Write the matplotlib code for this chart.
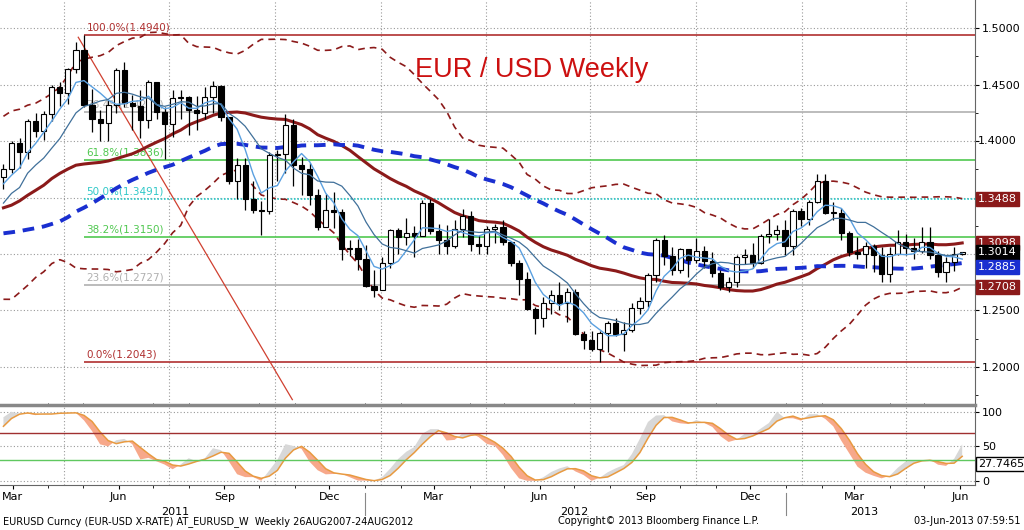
import numpy as np
import pandas as pd
import matplotlib
matplotlib.use("Agg")
import matplotlib.pyplot as plt
import matplotlib.dates as mdates

# ---- data (weekly, EURUSD) ----
pre_close = [1.363,1.362,1.377,1.352,1.339,1.350,1.345,1.350,1.338,1.329,1.275,1.236,1.257,1.226,
             1.197,1.211,1.238,1.237,1.256,1.263,1.294,1.291,1.304,1.328,1.276,1.270,1.276,1.289,
             1.271,1.305,1.349,1.379,1.400,1.397,1.396,1.395,1.403,1.368,1.366,1.324,1.341,1.324,
             1.320,1.312,1.338,1.291,1.337,1.362,1.360,1.358,1.350,1.368]
close = [1.375,1.398,1.390,1.418,1.409,1.424,1.448,1.443,1.464,1.481,1.432,1.420,1.416,1.432,1.463,
         1.434,1.431,1.419,1.452,1.426,1.415,1.438,1.439,1.428,1.425,1.439,1.449,1.421,1.365,1.379,
         1.349,1.339,1.338,1.388,1.389,1.414,1.379,1.375,1.352,1.324,1.339,1.337,1.304,1.305,1.296,
         1.272,1.268,1.292,1.321,1.315,1.319,1.316,1.345,1.320,1.312,1.307,1.322,1.334,1.309,1.307,
         1.322,1.324,1.311,1.292,1.278,1.251,1.243,1.257,1.264,1.257,1.266,1.229,1.224,1.216,1.230,
         1.239,1.229,1.233,1.252,1.258,1.281,1.312,1.298,1.286,1.304,1.295,1.303,1.294,1.283,1.271,
         1.275,1.297,1.299,1.292,1.316,1.318,1.321,1.307,1.338,1.331,1.346,1.365,1.336,1.336,1.319,
         1.302,1.300,1.307,1.299,1.282,1.300,1.311,1.305,1.303,1.311,1.299,1.284,1.293,1.300,1.3014]
high = [1.380,1.400,1.403,1.420,1.425,1.427,1.450,1.452,1.465,1.488,1.494,1.446,1.428,1.436,1.465,
        1.470,1.441,1.445,1.454,1.450,1.430,1.445,1.445,1.440,1.440,1.448,1.453,1.450,1.421,1.385,
        1.385,1.365,1.347,1.390,1.392,1.424,1.420,1.386,1.381,1.358,1.353,1.355,1.340,1.312,1.313,
        1.308,1.286,1.297,1.322,1.323,1.332,1.325,1.348,1.349,1.327,1.326,1.330,1.340,1.338,1.317,
        1.325,1.327,1.330,1.307,1.295,1.284,1.253,1.262,1.268,1.275,1.270,1.269,1.232,1.232,1.232,
        1.241,1.243,1.240,1.257,1.262,1.283,1.314,1.317,1.306,1.305,1.301,1.314,1.307,1.302,1.286,
        1.280,1.299,1.304,1.310,1.318,1.331,1.326,1.330,1.340,1.341,1.348,1.371,1.371,1.346,1.341,
        1.320,1.315,1.311,1.309,1.306,1.306,1.321,1.318,1.314,1.324,1.324,1.303,1.297,1.306,1.302]
low = [1.358,1.372,1.376,1.384,1.404,1.401,1.418,1.431,1.433,1.460,1.430,1.408,1.400,1.400,1.425,
       1.430,1.410,1.403,1.412,1.420,1.384,1.404,1.420,1.405,1.410,1.420,1.425,1.418,1.362,1.349,
       1.339,1.336,1.317,1.335,1.365,1.372,1.360,1.352,1.343,1.321,1.328,1.323,1.295,1.298,1.286,
       1.271,1.262,1.270,1.288,1.300,1.308,1.297,1.316,1.318,1.300,1.300,1.305,1.315,1.303,1.300,
       1.300,1.310,1.308,1.289,1.264,1.250,1.229,1.235,1.247,1.250,1.240,1.228,1.216,1.214,1.204,
       1.213,1.227,1.214,1.231,1.247,1.253,1.275,1.290,1.281,1.283,1.280,1.292,1.288,1.280,1.268,
       1.266,1.271,1.291,1.288,1.291,1.310,1.312,1.299,1.299,1.325,1.326,1.345,1.335,1.330,1.312,
       1.298,1.296,1.288,1.284,1.275,1.275,1.299,1.299,1.296,1.301,1.296,1.280,1.275,1.285,1.299]
first_open = 1.368
start_date = "2011-02-21"

fib_pct = ["100.0%", "76.4%", "61.8%", "50.0%", "38.2%", "23.6%", "0.0%"]
fib_val = [1.4940, 1.4256, 1.3836, 1.3491, 1.3150, 1.2727, 1.2043]
fib_col = ["#b03030", "#b0b0b0", "#50c850", "#30c8c8", "#50c850", "#b0b0b0", "#b03030"]

trend_dates = ["2011-04-27", "2011-10-30"]
trend_vals = [1.492, 1.171]

last_labels = [("1.3488", "#8b1a1a", "white"), ("1.3098", "#8b1a1a", "white"),
               ("1.3014", "black", "white"), ("1.2885", "#1a2fd0", "white"),
               ("1.2708", "#8b1a1a", "white")]
last_label_vals = [1.3488, 1.3098, 1.3014, 1.2885, 1.2708]
stoch_label = "27.7465"
yticks = [1.20, 1.25, 1.45, 1.50]   # 1.30, 1.35, 1.40 labels are hidden behind value boxes / lines

# ---- derived ----
n = len(close)
dates = pd.date_range(start_date, periods=n, freq="W-MON")
opens = [first_open] + close[:-1]
allc = pd.Series(pre_close + close)
def tail(s): return s.iloc[-n:].values
ma5 = tail(allc.rolling(5).mean())
ma10 = tail(allc.rolling(10).mean())
ma30 = tail(allc.rolling(30).mean())
ma50 = tail(allc.rolling(50).mean())
sd30 = tail(allc.rolling(30).std(ddof=0))
ub, lb = ma30 + 2 * sd30, ma30 - 2 * sd30
hh, ll = allc.rolling(14).max(), allc.rolling(14).min()
rawk = (allc - ll) / (hh - ll) * 100
k = rawk.rolling(3).mean()
d = k.rolling(3).mean()
k, d = tail(k), tail(d)

# ---- figure ----
fig = plt.figure(figsize=(10.24, 5.30), dpi=100)
ax = fig.add_axes([0.0, 0.2396, 0.952, 0.7604])
ax2 = fig.add_axes([0.0, 0.085, 0.952, 0.151], sharex=ax)
x = mdates.date2num(dates)
xl = (mdates.datestr2num("2011-02-18"), mdates.datestr2num("2013-06-14"))

# grid
qdates = pd.date_range("2011-03-15", "2013-06-15", freq="3MS") + pd.Timedelta(days=14)
for a in (ax, ax2):
    for qd in qdates:
        a.axvline(mdates.date2num(qd), color="#999999", ls=(0, (1, 2)), lw=0.8, zorder=0)
for yv in np.arange(1.20, 1.501, 0.05):
    ax.axhline(yv, color="#999999", ls=(0, (1, 2)), lw=0.8, zorder=0)

# fib lines
fx0 = mdates.datestr2num("2011-05-02")
for p, v, c in zip(fib_pct, fib_val, fib_col):
    ls = (0, (1, 1)) if p == "50.0%" else "-"
    ax.hlines(v, fx0, xl[1], color=c, lw=1.2, ls=ls, zorder=1)
    ax.text(fx0 + 2, v + 0.002, f"{p}({v:.4f})", color=c, fontsize=7.5, va="bottom", zorder=2)

ax.plot(mdates.datestr2num(trend_dates), trend_vals, color="#d04030", lw=0.9, zorder=2)

# bands and MAs
ax.plot(x, ub, color="#8b1a1a", ls=(0, (4, 3)), lw=1.2, zorder=3)
ax.plot(x, lb, color="#8b1a1a", ls=(0, (4, 3)), lw=1.2, zorder=3)
ax.plot(x, ma30, color="#8b1a1a", lw=2.2, zorder=3)
ax.plot(x, ma50, color="#1a2fd0", ls=(0, (3, 2)), lw=2.8, zorder=3)
ax.plot(x, ma5, color="#5aa0e0", lw=1.0, zorder=5)
ax.plot(x, ma10, color="#40709a", lw=0.9, zorder=5)

# candles
w = 4.5
for xi, o, c, h, l in zip(x, opens, close, high, low):
    ax.vlines(xi, l, h, color="black", lw=0.9, zorder=4)
    fc = "white" if c >= o else "black"
    ax.bar(xi, max(abs(c - o), 0.0008), bottom=min(o, c), width=w, color=fc,
           edgecolor="black", lw=0.8, zorder=4)

ax.text(0.545, 0.826, "EUR / USD Weekly", transform=ax.transAxes, color="#cc1010",
        fontsize=19.5, ha="center", va="center", family="Liberation Sans")

ax.set_xlim(*xl)
ax.set_ylim(1.168, 1.525)
ax.yaxis.tick_right()
ax.set_yticks(np.arange(1.20, 1.501, 0.05))
ax.set_yticklabels([f"{t:.4f}" if any(abs(t - s) < 1e-6 for s in yticks) else ""
                    for t in np.arange(1.20, 1.501, 0.05)])
ax.set_yticks(np.arange(1.175, 1.52, 0.025), minor=True)
ax.tick_params(axis="y", labelsize=8, direction="out", length=3, pad=2)
ax.tick_params(axis="x", bottom=False, labelbottom=False)
for s in ["top", "left", "bottom"]:
    ax.spines[s].set_visible(False)
ax.spines["right"].set_color("#666666")

ax.annotate("1.4000", xy=(1.003, 1.40), xycoords=("axes fraction", "data"), fontsize=8,
            va="center", ha="left")
for (txt, bg, fg), v in zip(last_labels, last_label_vals):
    ax.annotate(txt, xy=(1.003, v), xycoords=("axes fraction", "data"), fontsize=8,
                color=fg, va="center", ha="left",
                bbox=dict(boxstyle="square,pad=0.2", fc=bg, ec=bg))

# lower panel
ax2.fill_between(x, k, d, where=k >= d, color="#d8d8d8", interpolate=True, lw=0)
ax2.fill_between(x, k, d, where=k < d, color="#f7a88a", interpolate=True, lw=0)
ax2.plot(x, d, color="#e89a40", lw=1.1)
ax2.axhline(70, color="#a03030", lw=1)
ax2.axhline(30, color="#60c860", lw=1)
for yv in (0, 50, 100):
    ax2.axhline(yv, color="#999999", ls=(0, (1, 2)), lw=0.8, zorder=0)
ax2.set_ylim(-6, 110)
ax2.yaxis.tick_right()
ax2.set_yticks([0, 50, 100])
ax2.tick_params(axis="y", labelsize=8, length=3, pad=2)
ax2.annotate(stoch_label, xy=(1.003, 24), xycoords=("axes fraction", "data"), fontsize=8,
             color="black", va="center", ha="left",
             bbox=dict(boxstyle="square,pad=0.2", fc="white", ec="black"))
ax2.spines["left"].set_visible(False)
ax2.spines["top"].set_color("#888888")
ax2.spines["top"].set_linewidth(2.5)
ax2.spines["bottom"].set_color("#666666")
ax2.spines["right"].set_color("#666666")
ax2.xaxis.set_major_locator(mdates.MonthLocator(bymonth=[3, 6, 9, 12]))
ax2.xaxis.set_major_formatter(mdates.DateFormatter("%b"))
ax2.xaxis.set_minor_locator(mdates.MonthLocator())
ax2.tick_params(axis="x", labelsize=8, length=3, pad=2)

for yr, dt in [("2011", "2011-07-20"), ("2012", "2012-07-01"), ("2013", "2013-03-10")]:
    ax2.text(mdates.datestr2num(dt), -0.28, yr, transform=ax2.get_xaxis_transform(),
             fontsize=8, ha="center", va="top")
for dt in ["2012-01-01", "2013-01-01"]:
    ax2.plot([mdates.datestr2num(dt)] * 2, [-0.1, -0.38], transform=ax2.get_xaxis_transform(),
             color="#888888", lw=0.8, clip_on=False)

fig.text(0.003, 0.012, "EURUSD Curncy (EUR-USD X-RATE) AT_EURUSD_W  Weekly 26AUG2007-24AUG2012",
         fontsize=7)
fig.text(0.545, 0.012, "Copyright© 2013 Bloomberg Finance L.P.", fontsize=7)
fig.text(0.997, 0.012, "03-Jun-2013 07:59:51", fontsize=7, ha="right")

fig.savefig("out.png", dpi=100)
